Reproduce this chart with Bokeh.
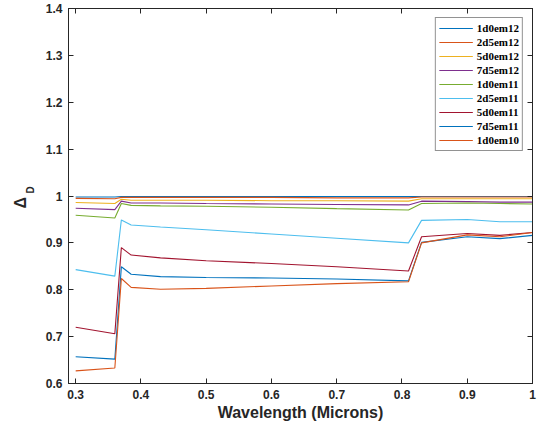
from bokeh.plotting import figure
from bokeh.models import LinearAxis, FixedTicker, Title, Range1d, Legend, LegendItem
from bokeh.embed import file_html
from bokeh.resources import INLINE

wavelength = [0.3, 0.36, 0.37, 0.385, 0.43, 0.5, 0.6, 0.7, 0.81, 0.83, 0.9, 0.95, 1.0]

names = ["1d0em12", "2d5em12", "5d0em12", "7d5em12", "1d0em11",
         "2d5em11", "5d0em11", "7d5em11", "1d0em10"]
colors = ["#0072BD", "#D95319", "#EDB120", "#7E2F8E", "#77AC30",
          "#4DBEEE", "#A2142F", "#0072BD", "#D95319"]

d_1d0em12 = [0.998, 0.998, 0.999, 0.999, 0.999, 0.999, 0.999, 0.999, 0.999, 0.999, 0.999, 0.999, 0.999]
d_2d5em12 = [0.995, 0.994, 0.997, 0.997, 0.997, 0.997, 0.997, 0.996, 0.996, 0.998, 0.998, 0.998, 0.998]
d_5d0em12 = [0.986, 0.984, 0.993, 0.991, 0.991, 0.991, 0.990, 0.990, 0.989, 0.994, 0.994, 0.994, 0.994]
d_7d5em12 = [0.974, 0.971, 0.989, 0.985, 0.985, 0.984, 0.983, 0.982, 0.981, 0.989, 0.988, 0.987, 0.987]
d_1d0em11 = [0.959, 0.953, 0.984, 0.980, 0.979, 0.978, 0.976, 0.973, 0.970, 0.984, 0.985, 0.984, 0.983]
d_2d5em11 = [0.843, 0.829, 0.949, 0.938, 0.934, 0.928, 0.919, 0.910, 0.900, 0.948, 0.950, 0.945, 0.945]
d_5d0em11 = [0.720, 0.706, 0.890, 0.874, 0.868, 0.862, 0.856, 0.849, 0.840, 0.913, 0.920, 0.916, 0.922]
d_7d5em11 = [0.657, 0.652, 0.849, 0.833, 0.828, 0.826, 0.825, 0.823, 0.819, 0.901, 0.913, 0.909, 0.916]
d_1d0em10 = [0.627, 0.633, 0.824, 0.805, 0.801, 0.803, 0.808, 0.813, 0.817, 0.900, 0.917, 0.913, 0.922]

series = [d_1d0em12, d_2d5em12, d_5d0em12, d_7d5em12, d_1d0em11,
          d_2d5em11, d_5d0em11, d_7d5em11, d_1d0em10]

x_ticks = [0.3, 0.4, 0.5, 0.6, 0.7, 0.8, 0.9, 1.0]
y_ticks = [0.6, 0.7, 0.8, 0.9, 1.0, 1.1, 1.2, 1.3, 1.4]
x_tick_labels = ["0.3", "0.4", "0.5", "0.6", "0.7", "0.8", "0.9", "1"]
y_tick_labels = ["0.6", "0.7", "0.8", "0.9", "1", "1.1", "1.2", "1.3", "1.4"]

AX = "#262626"
TICK_FONT = "Liberation Sans"

p = figure(width=547, height=428, output_backend="svg", toolbar_location=None,
           x_range=Range1d(0.289, 1.0), y_range=Range1d(0.6, 1.4),
           min_border_left=68, min_border_right=15, min_border_top=8,
           min_border_bottom=45)
p.xgrid.visible = False
p.ygrid.visible = False
p.outline_line_color = AX
p.outline_line_width = 1
p.background_fill_color = "white"
p.border_fill_color = "white"

items = []
for name, col, ys in zip(names, colors, series):
    r = p.line(wavelength, ys, line_color=col, line_width=1.1)
    items.append(LegendItem(label=name, renderers=[r]))


def style_axis(ax, ticks, labels, show_labels):
    ax.ticker = FixedTicker(ticks=ticks)
    ax.major_label_overrides = {t: l for t, l in zip(ticks, labels)}
    ax.major_tick_in = 5
    ax.major_tick_out = 0
    ax.minor_tick_in = 0
    ax.minor_tick_out = 0
    ax.axis_line_color = AX
    ax.major_tick_line_color = AX
    ax.major_label_text_font = TICK_FONT
    ax.major_label_text_font_style = "bold"
    ax.major_label_text_font_size = "12px"
    ax.major_label_text_color = AX if show_labels else None
    ax.major_label_standoff = 6


style_axis(p.xaxis[0], x_ticks, x_tick_labels, True)
style_axis(p.yaxis[0], y_ticks, y_tick_labels, True)
p.xaxis[0].axis_label = "Wavelength (Microns)"
p.xaxis[0].axis_label_text_font = TICK_FONT
p.xaxis[0].axis_label_text_font_style = "bold"
p.xaxis[0].axis_label_text_font_size = "16px"
p.xaxis[0].axis_label_text_color = AX
p.xaxis[0].axis_label_standoff = 2

top_ax = LinearAxis()
right_ax = LinearAxis()
style_axis(top_ax, x_ticks, x_tick_labels, False)
style_axis(right_ax, y_ticks, y_tick_labels, False)
top_ax.major_label_text_font_size = "0px"
right_ax.major_label_text_font_size = "0px"
top_ax.major_label_standoff = 0
right_ax.major_label_standoff = 0
p.add_layout(top_ax, "above")
p.add_layout(right_ax, "right")

# y axis label "Δ_D": subscript D closer to the axis, Δ further out
sub_title = Title(text="D", align="left", offset=190, standoff=14,
                  text_font=TICK_FONT, text_font_style="bold",
                  text_font_size="10px", text_color=AX)
delta_title = Title(text="Δ", align="left", offset=175, standoff=-26,
                    text_font=TICK_FONT, text_font_style="bold",
                    text_font_size="16px", text_color=AX)
p.add_layout(sub_title, "left")
p.add_layout(delta_title, "left")

legend = Legend(items=items, location="top_right")
legend.margin = 9
legend.padding = 3
legend.spacing = 0
legend.label_height = 14
legend.glyph_height = 14
legend.glyph_width = 34
legend.label_standoff = 4
legend.label_text_font = "Liberation Serif"
legend.label_text_font_style = "bold"
legend.label_text_font_size = "11px"
legend.label_text_color = "#000000"
legend.border_line_color = AX
legend.border_line_width = 1
legend.background_fill_alpha = 1.0
p.add_layout(legend)

open("out.html", "w").write(file_html(p, INLINE))
